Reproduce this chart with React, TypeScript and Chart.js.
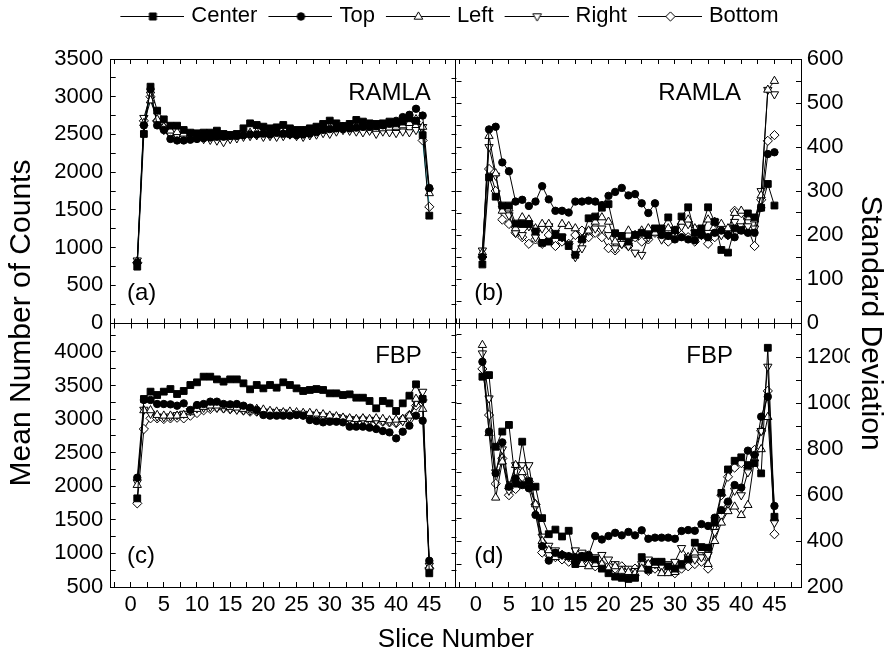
import { useEffect, useRef } from 'react';
import { Chart, registerables } from 'chart.js';

Chart.register(...registerables);

const FONT = '"Liberation Sans", Arial, Helvetica, sans-serif';
Chart.defaults.font.family = FONT;
Chart.defaults.color = '#000';

// ---------- categories ----------
const slices = [1, 2, 3, 4, 5, 6, 7, 8, 9, 10, 11, 12, 13, 14, 15, 16, 17, 18, 19, 20, 21, 22, 23, 24, 25, 26, 27, 28, 29, 30, 31, 32, 33, 34, 35, 36, 37, 38, 39, 40, 41, 42, 43, 44, 45];
const seriesNames = ['Center', 'Top', 'Left', 'Right', 'Bottom'];
const panelTags = ['(a)', '(b)', '(c)', '(d)'];
const methodNames = ['RAMLA', 'RAMLA', 'FBP', 'FBP'];

// ---------- tick values / labels ----------
const sliceTickValues = [-2.5, 0, 2.5, 5, 7.5, 10, 12.5, 15, 17.5, 20, 22.5, 25, 27.5, 30, 32.5, 35, 37.5, 40, 42.5, 45, 47.5];
const sliceTickLabels = [0, 5, 10, 15, 20, 25, 30, 35, 40, 45];
const ramlaMeanTickValues = [0, 250, 500, 750, 1000, 1250, 1500, 1750, 2000, 2250, 2500, 2750, 3000, 3250, 3500];
const ramlaMeanTickLabels = [0, 500, 1000, 1500, 2000, 2500, 3000, 3500];
const fbpMeanTickValues = [500, 750, 1000, 1250, 1500, 1750, 2000, 2250, 2500, 2750, 3000, 3250, 3500, 3750, 4000, 4250];
const fbpMeanTickLabels = [500, 1000, 1500, 2000, 2500, 3000, 3500, 4000];
const ramlaSdTickValues = [0, 50, 100, 150, 200, 250, 300, 350, 400, 450, 500, 550, 600];
const ramlaSdTickLabels = [0, 100, 200, 300, 400, 500, 600];
const fbpSdTickValues = [200, 300, 400, 500, 600, 700, 800, 900, 1000, 1100, 1200, 1300];
const fbpSdTickLabels = [200, 400, 600, 800, 1000, 1200];

// ---------- (a) RAMLA mean ----------
const ramlaMeanCenter = [747, 2506, 3133, 2815, 2700, 2616, 2616, 2559, 2524, 2515, 2524, 2524, 2550, 2506, 2493, 2506, 2581, 2647, 2625, 2603, 2581, 2594, 2625, 2581, 2559, 2559, 2581, 2603, 2639, 2683, 2647, 2612, 2639, 2692, 2670, 2647, 2639, 2647, 2670, 2647, 2670, 2714, 2680, 2490, 1423];
const ramlaMeanTop = [800, 2620, 3100, 2620, 2560, 2440, 2420, 2420, 2430, 2440, 2450, 2460, 2470, 2470, 2480, 2480, 2490, 2500, 2500, 2510, 2500, 2520, 2510, 2500, 2490, 2500, 2510, 2530, 2560, 2570, 2580, 2570, 2580, 2590, 2600, 2600, 2610, 2620, 2640, 2680, 2730, 2760, 2840, 2750, 1790];
const ramlaMeanLeft = [820, 2650, 2950, 2700, 2600, 2550, 2530, 2510, 2500, 2480, 2470, 2470, 2460, 2480, 2470, 2480, 2500, 2520, 2530, 2520, 2510, 2520, 2500, 2510, 2530, 2540, 2550, 2560, 2580, 2590, 2600, 2600, 2590, 2600, 2610, 2590, 2600, 2580, 2590, 2600, 2620, 2650, 2700, 2600, 1720];
const ramlaMeanRight = [830, 2720, 3030, 2650, 2560, 2500, 2480, 2470, 2460, 2450, 2440, 2430, 2420, 2400, 2440, 2450, 2470, 2480, 2490, 2470, 2480, 2470, 2480, 2500, 2480, 2470, 2490, 2500, 2520, 2510, 2540, 2560, 2550, 2540, 2530, 2550, 2510, 2540, 2530, 2520, 2540, 2530, 2560, 2600, 1750];
const ramlaMeanBottom = [800, 2680, 3000, 2680, 2590, 2520, 2500, 2500, 2490, 2480, 2480, 2470, 2480, 2470, 2460, 2480, 2490, 2500, 2500, 2510, 2500, 2490, 2510, 2520, 2520, 2530, 2520, 2540, 2560, 2570, 2580, 2590, 2580, 2560, 2570, 2560, 2550, 2560, 2570, 2560, 2580, 2600, 2620, 2420, 1540];

// ---------- (b) RAMLA standard deviation ----------
const ramlaSdCenter = [133, 331, 287, 267, 267, 226, 225, 225, 208, 182, 185, 200, 195, 175, 155, 190, 238, 242, 262, 270, 204, 198, 185, 200, 205, 200, 215, 215, 240, 211, 242, 263, 205, 215, 263, 230, 166, 160, 215, 211, 249, 240, 262, 316, 267];
const ramlaSdTop = [150, 440, 446, 365, 345, 276, 280, 266, 276, 311, 281, 255, 255, 251, 276, 276, 278, 276, 268, 289, 298, 307, 290, 293, 272, 250, 272, 200, 198, 190, 195, 190, 188, 200, 195, 205, 210, 200, 195, 210, 205, 205, 262, 384, 388];
const ramlaSdLeft = [160, 425, 340, 255, 260, 215, 240, 235, 215, 225, 225, 200, 225, 220, 215, 190, 210, 230, 240, 230, 185, 195, 210, 200, 210, 215, 205, 210, 215, 210, 230, 235, 215, 205, 235, 230, 225, 215, 250, 255, 240, 235, 290, 530, 550];
const ramlaSdRight = [165, 400, 335, 260, 245, 205, 200, 220, 195, 215, 220, 205, 195, 180, 150, 170, 210, 215, 215, 200, 170, 180, 175, 160, 155, 195, 210, 190, 200, 210, 220, 225, 215, 200, 205, 230, 200, 200, 230, 220, 220, 215, 300, 530, 520];
const ramlaSdBottom = [150, 350, 300, 235, 225, 205, 195, 180, 190, 180, 200, 175, 185, 180, 200, 210, 195, 205, 195, 170, 165, 180, 175, 195, 185, 190, 205, 200, 185, 205, 200, 195, 185, 200, 180, 195, 210, 200, 255, 250, 215, 175, 280, 414, 427];

// ---------- (c) FBP mean ----------
const fbpMeanCenter = [1820, 3299, 3408, 3358, 3408, 3447, 3373, 3418, 3507, 3547, 3631, 3631, 3591, 3557, 3591, 3591, 3532, 3443, 3507, 3457, 3507, 3467, 3547, 3507, 3457, 3418, 3433, 3447, 3433, 3383, 3383, 3358, 3368, 3318, 3318, 3269, 3160, 3269, 3234, 3120, 3234, 3348, 3517, 3299, 704];
const fbpMeanTop = [2127, 3284, 3284, 3224, 3224, 3219, 3199, 3234, 3135, 3209, 3224, 3259, 3259, 3224, 3219, 3224, 3199, 3170, 3135, 3061, 3051, 3051, 3051, 3051, 3061, 3051, 2986, 2971, 2951, 2961, 2961, 2951, 2887, 2887, 2887, 2872, 2852, 2822, 2802, 2713, 2812, 2902, 3051, 2976, 891];
const fbpMeanLeft = [2018, 3130, 3130, 3060, 3050, 3050, 3050, 3060, 3100, 3150, 3180, 3200, 3200, 3190, 3180, 3170, 3150, 3140, 3150, 3140, 3120, 3110, 3100, 3110, 3100, 3090, 3090, 3080, 3070, 3050, 3040, 3020, 3010, 3000, 3010, 3000, 3010, 3000, 2980, 2990, 3000, 3050, 3300, 3150, 800];
const fbpMeanRight = [2060, 3140, 3080, 3040, 3030, 3040, 3060, 3080, 3120, 3160, 3170, 3180, 3170, 3160, 3150, 3140, 3130, 3130, 3120, 3110, 3110, 3100, 3100, 3090, 3080, 3080, 3070, 3060, 3050, 3040, 3030, 3010, 3000, 2990, 2990, 2990, 2980, 2970, 2960, 2950, 2970, 3020, 3250, 3408, 820];
const fbpMeanBottom = [1745, 2852, 3011, 3010, 3000, 3010, 3020, 3010, 3050, 3090, 3130, 3150, 3170, 3160, 3150, 3150, 3130, 3110, 3110, 3100, 3100, 3090, 3090, 3080, 3070, 3060, 3060, 3050, 3040, 3030, 3020, 3010, 3000, 2990, 3000, 2980, 2980, 2960, 2950, 2940, 3000, 3060, 3200, 3284, 780];

// ---------- (d) FBP standard deviation ----------
const fbpSdCenter = [1116, 1123, 811, 877, 906, 650, 833, 660, 637, 500, 430, 450, 420, 445, 300, 330, 330, 320, 280, 260, 245, 240, 235, 240, 330, 275, 310, 310, 290, 280, 300, 320, 393, 374, 371, 480, 610, 712, 750, 765, 731, 740, 695, 1242, 506];
const fbpSdTop = [1181, 877, 695, 830, 637, 673, 644, 630, 514, 378, 315, 349, 340, 334, 330, 335, 340, 422, 407, 422, 436, 425, 440, 425, 447, 410, 415, 415, 415, 410, 444, 448, 445, 474, 466, 502, 535, 572, 644, 633, 794, 775, 942, 1029, 553];
const fbpSdLeft = [1254, 870, 589, 746, 640, 731, 700, 640, 560, 400, 360, 330, 340, 330, 320, 300, 290, 300, 300, 280, 290, 270, 265, 260, 280, 300, 295, 260, 260, 265, 290, 330, 350, 360, 300, 400, 480, 530, 550, 513, 557, 760, 800, 940, 499];
const fbpSdRight = [1218, 1022, 700, 800, 620, 731, 731, 731, 550, 420, 380, 360, 340, 330, 360, 350, 330, 330, 340, 320, 300, 280, 280, 270, 300, 320, 300, 290, 300, 310, 370, 330, 320, 330, 340, 440, 510, 560, 620, 600, 700, 767, 880, 1160, 480];
const fbpSdBottom = [1150, 949, 650, 760, 600, 627, 680, 660, 560, 350, 340, 330, 320, 310, 310, 320, 300, 290, 300, 290, 280, 290, 270, 280, 290, 270, 280, 280, 270, 260, 280, 290, 300, 310, 280, 460, 600, 680, 720, 740, 720, 797, 880, 1054, 430];

const panelSeries = [
  { xAxisID: 'xa', yAxisID: 'ya', values: [ramlaMeanCenter, ramlaMeanTop, ramlaMeanLeft, ramlaMeanRight, ramlaMeanBottom] },
  { xAxisID: 'xb', yAxisID: 'yb', values: [ramlaSdCenter, ramlaSdTop, ramlaSdLeft, ramlaSdRight, ramlaSdBottom] },
  { xAxisID: 'xc', yAxisID: 'yc', values: [fbpMeanCenter, fbpMeanTop, fbpMeanLeft, fbpMeanRight, fbpMeanBottom] },
  { xAxisID: 'xd', yAxisID: 'yd', values: [fbpSdCenter, fbpSdTop, fbpSdLeft, fbpSdRight, fbpSdBottom] },
];

const markers = [
  { pointStyle: 'rect', radius: 4.8, fill: '#000', rotation: 0 },
  { pointStyle: 'circle', radius: 3.7, fill: '#000', rotation: 0 },
  { pointStyle: 'triangle', radius: 4.8, fill: '#fff', rotation: 0 },
  { pointStyle: 'triangle', radius: 4.8, fill: '#fff', rotation: 180 },
  { pointStyle: 'rectRot', radius: 4.6, fill: '#fff', rotation: 0 },
];

function makeIcon(kind: number): HTMLCanvasElement {
  const c = document.createElement('canvas');
  c.width = 74;
  c.height = 16;
  const g = c.getContext('2d') as CanvasRenderingContext2D;
  g.strokeStyle = '#000';
  g.lineWidth = 1;
  g.beginPath();
  g.moveTo(10, 8.5);
  g.lineTo(74, 8.5);
  g.stroke();
  const cx = 42.5;
  const cy = 8.5;
  g.beginPath();
  if (kind === 0) {
    g.rect(cx - 3.5, cy - 3.5, 7, 7);
  } else if (kind === 1) {
    g.arc(cx, cy, 3.8, 0, Math.PI * 2);
  } else if (kind === 2) {
    g.moveTo(cx, cy - 4.6);
    g.lineTo(cx + 4.3, cy + 2.7);
    g.lineTo(cx - 4.3, cy + 2.7);
    g.closePath();
  } else if (kind === 3) {
    g.moveTo(cx, cy + 4.6);
    g.lineTo(cx + 4.3, cy - 2.7);
    g.lineTo(cx - 4.3, cy - 2.7);
    g.closePath();
  } else {
    g.moveTo(cx, cy - 4.6);
    g.lineTo(cx + 4.6, cy);
    g.lineTo(cx, cy + 4.6);
    g.lineTo(cx - 4.6, cy);
    g.closePath();
  }
  g.fillStyle = kind <= 1 ? '#000' : '#fff';
  g.fill();
  g.stroke();
  return c;
}

type ScaleOpts = {
  position: string;
  stack: string;
  min: number;
  max: number;
  tickValues: number[];
  labels: number[] | null;
  padding: number;
  lineAt?: number;
  fit: (sc: any) => void;
};

function mkScale(o: ScaleOpts) {
  return {
    type: 'linear',
    position: o.position,
    stack: o.stack,
    stackWeight: 1,
    min: o.min,
    max: o.max,
    border: { display: true, color: '#000', width: 1 },
    grid: {
      display: true,
      drawOnChartArea: o.lineAt !== undefined,
      drawTicks: true,
      tickLength: -5,
      tickColor: '#000',
      tickWidth: 1,
      lineWidth: 1,
      color: (c: any) => (o.lineAt !== undefined && c.tick && c.tick.value === o.lineAt ? '#000' : 'rgba(0,0,0,0)'),
    },
    ticks: {
      display: o.labels !== null,
      autoSkip: false,
      maxRotation: 0,
      minRotation: 0,
      font: { family: FONT, size: 22 },
      color: '#000',
      padding: o.padding,
      callback: (v: any) => (o.labels && o.labels.indexOf(Number(v)) >= 0 ? String(v) : ''),
    },
    afterBuildTicks: (sc: any) => {
      sc.ticks = o.tickValues.map((v) => ({ value: v }));
    },
    afterFit: o.fit,
  };
}

const topFit = (sc: any) => {
  const lh = sc.chart.legend ? sc.chart.legend.height : 0;
  sc.height = Math.max(0, 59 - lh);
};
const bottomFit = (sc: any) => {
  sc.height = 37.4;
};
const leftFit = (sc: any) => {
  sc.width = 68.7;
};
const rightFit = (sc: any) => {
  sc.width = 49;
};

const panelDecor = {
  id: 'panelDecor',
  afterDraw(chart: any) {
    const ctx = chart.ctx as CanvasRenderingContext2D;
    const s = chart.scales;
    const midX = Math.round(s.xa.right) + 0.5;
    const midY = Math.round(s.ya.bottom) + 0.5;
    ctx.save();
    ctx.strokeStyle = '#000';
    ctx.lineWidth = 1;
    ctx.beginPath();
    const tl = 5;
    const vert: [any, number][] = [[s.ya, -1], [s.yc, -1], [s.yb, 1], [s.yd, 1]];
    vert.forEach(([sc, dir]) => {
      sc.ticks.forEach((t: any) => {
        const y = Math.round(sc.getPixelForValue(t.value)) + 0.5;
        ctx.moveTo(midX, y);
        ctx.lineTo(midX + dir * tl, y);
      });
    });
    const horiz: [any, number][] = [[s.xa, -1], [s.xb, -1], [s.xc, 1], [s.xd, 1]];
    horiz.forEach(([sc, dir]) => {
      sc.ticks.forEach((t: any) => {
        const x = Math.round(sc.getPixelForValue(t.value)) + 0.5;
        ctx.moveTo(x, midY);
        ctx.lineTo(x, midY + dir * tl);
      });
    });
    ctx.stroke();

    ctx.fillStyle = '#000';
    ctx.font = '24px ' + FONT;
    ctx.textBaseline = 'alphabetic';
    const panels = [[s.xa, s.ya], [s.xb, s.yb], [s.xc, s.yc], [s.xd, s.yd]];
    const tagOffsets = [[16.3, 23], [18.3, 23], [16.3, 24], [18.3, 24]];
    const nameOffsets = [[25, 41], [60, 41], [34, 40], [68, 40]];
    panels.forEach(([xs, ys], i) => {
      ctx.textAlign = 'left';
      ctx.fillText(panelTags[i], xs.left + tagOffsets[i][0], ys.bottom - tagOffsets[i][1]);
      ctx.textAlign = 'right';
      ctx.fillText(methodNames[i], xs.right - nameOffsets[i][0], ys.top + nameOffsets[i][1]);
    });
    ctx.restore();
  },
};

export default function App() {
  const ref = useRef<HTMLCanvasElement>(null);

  useEffect(() => {
    const canvas = ref.current as HTMLCanvasElement;
    const icons = [0, 1, 2, 3, 4].map(makeIcon);

    const datasets = panelSeries.flatMap((p, pi) =>
      p.values.map((vals, si) => ({
        label: seriesNames[si],
        data: slices.map((s, k) => ({ x: s, y: vals[k] })),
        xAxisID: p.xAxisID,
        yAxisID: p.yAxisID,
        borderColor: pi === 0 && si === 4 ? '#22b8c8' : '#000',
        borderWidth: 1,
        pointStyle: markers[si].pointStyle,
        pointRadius: markers[si].radius,
        pointRotation: markers[si].rotation,
        pointBackgroundColor: markers[si].fill,
        pointBorderColor: '#000',
        pointBorderWidth: 1,
        tension: 0,
        fill: false,
      }))
    );

    const chart = new Chart(canvas, {
      type: 'line',
      data: { datasets } as any,
      options: {
        responsive: false,
        animation: false,
        events: [],
        layout: { padding: 0 },
        plugins: {
          legend: {
            display: true,
            position: 'top',
            align: 'center',
            onClick: () => {},
            labels: {
              usePointStyle: true,
              pointStyleWidth: 66,
              padding: 5,
              font: { family: FONT, size: 22 },
              color: '#000',
              generateLabels: () =>
                seriesNames.map((name, i) => ({
                  text: name,
                  pointStyle: icons[i],
                  datasetIndex: i,
                  hidden: false,
                  lineWidth: 0,
                  fillStyle: '#000',
                  strokeStyle: '#000',
                  fontColor: '#000',
                })),
            },
          },
          title: {
            display: true,
            text: 'Mean Number of Counts',
            position: 'left',
            fullSize: false,
            color: '#000',
            font: { family: FONT, size: 30, weight: 'normal' },
            padding: { top: 4, bottom: 2 },
          },
          subtitle: {
            display: true,
            text: 'Standard Deviation',
            position: 'right',
            fullSize: false,
            color: '#000',
            font: { family: FONT, size: 30, weight: 'normal' },
            padding: { top: 5, bottom: 2 },
          },
          tooltip: { enabled: false },
        },
        scales: {
          xb: mkScale({ position: 'top', stack: 'stTop', min: -3, max: 49, tickValues: sliceTickValues, labels: null, padding: 0, fit: topFit }),
          xa: mkScale({ position: 'top', stack: 'stTop', min: -3, max: 49, tickValues: [...sliceTickValues, 49], labels: null, padding: 0, lineAt: 49, fit: topFit }),
          xc: mkScale({ position: 'bottom', stack: 'stBottom', min: -3, max: 49, tickValues: sliceTickValues, labels: sliceTickLabels, padding: 9.5, fit: bottomFit }),
          xd: mkScale({ position: 'bottom', stack: 'stBottom', min: -3, max: 49, tickValues: sliceTickValues, labels: sliceTickLabels, padding: 9.5, fit: bottomFit }),
          xt: {
            type: 'linear',
            position: 'bottom',
            weight: 1,
            min: 0,
            max: 1,
            border: { display: false },
            grid: { display: false, drawTicks: false },
            ticks: { display: false },
            title: {
              display: true,
              text: 'Slice Number',
              color: '#000',
              font: { family: FONT, size: 26 },
              padding: { top: 0, bottom: 0.4 },
            },
            afterFit: (sc: any) => {
              sc.height = 31.6;
            },
          },
          yc: mkScale({ position: 'left', stack: 'stLeft', min: 500, max: 4430, tickValues: fbpMeanTickValues, labels: fbpMeanTickLabels, padding: 12.4, fit: leftFit }),
          ya: mkScale({ position: 'left', stack: 'stLeft', min: 0, max: 3500, tickValues: ramlaMeanTickValues, labels: ramlaMeanTickLabels, padding: 12.4, lineAt: 0, fit: leftFit }),
          yb: mkScale({ position: 'right', stack: 'stRight', min: 0, max: 600, tickValues: ramlaSdTickValues, labels: ramlaSdTickLabels, padding: 10.7, fit: rightFit }),
          yd: mkScale({ position: 'right', stack: 'stRight', min: 200, max: 1350, tickValues: fbpSdTickValues, labels: fbpSdTickLabels, padding: 10.7, fit: rightFit }),
        } as any,
      } as any,
      plugins: [panelDecor],
    });

    return () => chart.destroy();
  }, []);

  return (
    <div style={{ position: 'fixed', left: 0, top: 0, width: 893, height: 656, background: '#fff' }}>
      <canvas ref={ref} width={893} height={656} style={{ display: 'block', width: 893, height: 656 }} />
    </div>
  );
}
